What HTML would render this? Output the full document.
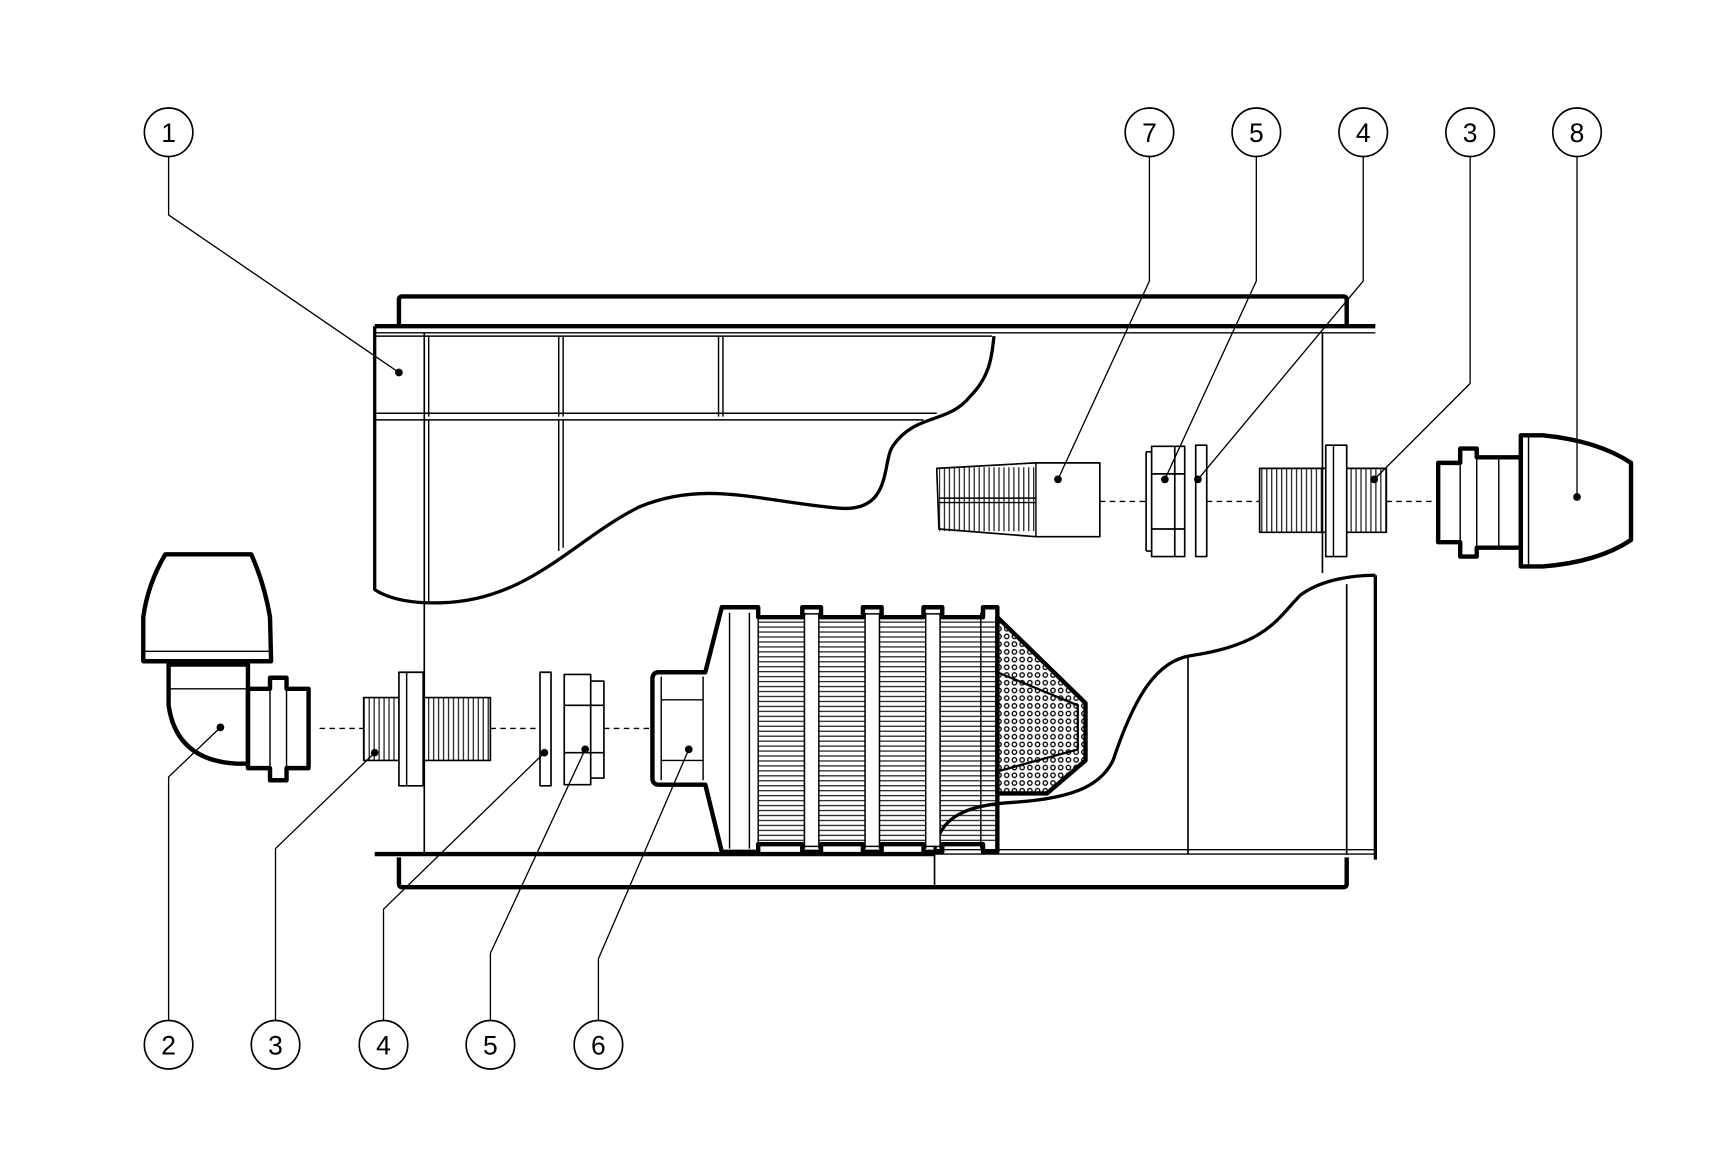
<!DOCTYPE html>
<html><head><meta charset="utf-8"><style>html,body{margin:0;padding:0;background:#fff}svg{display:block}</style></head>
<body>
<svg width="1728" height="1150" viewBox="0 0 1568 1043.5" xmlns="http://www.w3.org/2000/svg" font-family="Liberation Sans, sans-serif">
<defs>
<pattern id="hs" width="10" height="4.5" patternUnits="userSpaceOnUse"><line x1="0" y1="2" x2="10" y2="2" stroke="#000" stroke-width="1"/></pattern>
<pattern id="vs" width="4.5" height="10" patternUnits="userSpaceOnUse"><line x1="2" y1="0" x2="2" y2="10" stroke="#000" stroke-width="1"/></pattern>
<pattern id="dots" width="7" height="7" patternUnits="userSpaceOnUse"><circle cx="3.5" cy="3.5" r="2" fill="none" stroke="#000" stroke-width="1.2"/></pattern>
</defs>
<rect width="1568" height="1044" fill="#fff"/>
<g fill="none" stroke="#000" stroke-linejoin="round">
<path d="M362,296 V272 Q362,269 365,269 H1219 Q1222,269 1222,272 V296" stroke-width="4"/>
<path d="M340,296 H1248" stroke-width="4"/>
<path d="M340,302 H1248" stroke-width="1.3"/>
<path d="M362,778 V802 Q362,805 365,805 H1219 Q1222,805 1222,802 V778" stroke-width="4"/>
<path d="M340,775 H848" stroke-width="4"/>
<path d="M848,775 H1248 M848,771 H1248" stroke-width="1.3"/>
<path d="M385,302 V775" stroke-width="1.5"/>
<path d="M1200,302 V520" stroke-width="1.5"/>
<path d="M1222,530 V775 M1078,595 V775" stroke-width="1.5"/>
<path d="M848,775 V803" stroke-width="1.5"/>
<path d="M340,296 V535 Q360,548 400,547 C480,545 520,490 580,460 C640,435 690,455 760,461 C810,466 800,420 810,405 C830,375 860,385 880,360 C900,340 900,320 902,305" stroke-width="3"/>
<path d="M340,375 H850 M340,381 H838 M340,305 H900" stroke-width="1.3"/>
<path d="M385,305 V378 M389,305 V378 M507,305 V378 M511,305 V378 M652,305 V378 M656,305 V378" stroke-width="1.3"/>
<path d="M385,381 V547 M389,381 V547 M507,381 V500 M511,381 V497" stroke-width="1.3"/>
<path d="M1248,522 V780 M848,775 C850,740 880,730 920,728 C980,724 1000,710 1010,690 C1030,630 1050,600 1080,595 C1150,585 1160,560 1180,540 C1200,525 1230,522 1248,522" stroke-width="3"/>
<path d="M598,610 H640 L655,551 H688 V560 H728 V551 H745 V560 H783 V551 H800 V560 H838 V551 H855 V560 H892 V551 H905 V773 H892 V766 H855 V773 H838 V766 H800 V773 H783 V766 H745 V773 H728 V766 H688 V773 H655 L640,712 H598 Q592,712 592,706 V616 Q592,610 598,610 Z" stroke-width="4"/>
<rect x="688" y="562" width="217" height="203" fill="url(#hs)" stroke="none"/>
<path d="M662,556 V770 M680,556 V770 M688,556 V770 M730,556 V770 M743,556 V770 M785,556 V770 M798,556 V770 M840,556 V770 M853,556 V770 M890,556 V770" stroke-width="1.3"/>
<path d="M730,557 H743 V768 H730 Z M785,557 H798 V768 H785 Z M840,557 H853 V768 H840Z" fill="#fff" stroke-width="1.3"/>
<path d="M600,614 V708 M638,614 V708 M600,635 H638 M600,690 H638" stroke-width="1.3"/>
<path d="M905,560 L985,638 V690 L950,720 H905 Z" fill="url(#dots)" stroke-width="4"/>
<path d="M905,610 L978,640 L978,680 L905,700" fill="none" stroke-width="2"/>
<path d="M290,661 H330 M445,661 H490 M548,661 H592" stroke-width="1.2" stroke-dasharray="5,4"/>
<path d="M150,503 H228 Q240,530 245,560 L246,600 H130 L130,560 Q134,530 150,503 Z" stroke-width="4"/>
<path d="M130,591 H246" stroke-width="1.3"/>
<path d="M153,603 V640 Q160,690 215,693 H225 V625 H225 V603 Z" stroke-width="4"/>
<path d="M225,625 H245 V615 H260 V625 H280 V697 H260 V708 H245 V697 H225 Z" stroke-width="4"/>
<path d="M153,625 H225 M245,625 V697 M260,625 V697" stroke-width="1.3"/>
<rect x="330" y="633" width="115" height="57" fill="url(#vs)" stroke-width="1.5"/>
<rect x="362" y="610" width="22" height="103" fill="#fff" stroke-width="1.5"/>
<path d="M369,610 V713" stroke-width="1.3"/>
<rect x="490" y="610" width="10" height="103" stroke-width="1.5"/>
<rect x="512" y="612" width="24" height="100" stroke-width="1.5"/>
<path d="M536,618 H548 V706 H536 M512,640 H548 M512,683 H548" stroke-width="1.5"/>
<path d="M998,455 H1040 M1095,455 H1143 M1258,455 H1305" stroke-width="1.2" stroke-dasharray="5,4"/>
<path d="M850,425 L940,420 H998 V487 H940 L852,480 Z" stroke-width="1.5"/>
<rect x="852" y="424" width="88" height="58" fill="url(#vs)" stroke="none"/>
<path d="M940,420 V487 M852,452 H940 M852,456 H940" stroke-width="1.3"/>
<rect x="1045" y="405" width="30" height="100" stroke-width="1.5"/>
<path d="M1040,410 H1045 M1040,500 H1045 M1040,410 V500 M1045,430 H1075 M1045,480 H1075 M1066,405 V505" stroke-width="1.5"/>
<rect x="1085" y="404" width="10" height="101" stroke-width="1.5"/>
<rect x="1143" y="425" width="115" height="58" fill="url(#vs)" stroke-width="1.5"/>
<rect x="1203" y="404" width="19" height="101" fill="#fff" stroke-width="1.5"/>
<path d="M1210,404 V505" stroke-width="1.3"/>
<path d="M1380,395 H1400 Q1450,400 1480,420 V490 Q1450,510 1400,514 H1380 Z" stroke-width="4"/>
<path d="M1305,420 H1325 V407 H1340 V415 H1380 V497 H1340 V505 H1325 V492 H1305 Z" stroke-width="4"/>
<path d="M1325,420 V492 M1340,415 V497 M1360,415 V497 M1387,395 V514" stroke-width="1.3"/>
<g stroke-width="1.2">
<path d="M153,142 V195 L362,338"/>
<path d="M1043,142 V255 L960,435"/>
<path d="M1140,142 V255 L1057,435"/>
<path d="M1237,142 V255 L1087,435"/>
<path d="M1334,142 V348 L1247,435"/>
<path d="M1431,142 V450"/>
<path d="M153,926 V705 L200,660"/>
<path d="M250,926 V770 L340,683"/>
<path d="M348,926 V825 L494,683"/>
<path d="M445,926 V865 L531,680"/>
<path d="M543,926 V870 L625,680"/>
</g>
</g>
<g fill="#000">
<circle cx="362" cy="338" r="3.5"/><circle cx="960" cy="435" r="3.5"/><circle cx="1057" cy="435" r="3.5"/><circle cx="1087" cy="435" r="3.5"/><circle cx="1247" cy="435" r="3.5"/><circle cx="1431" cy="451" r="3.5"/><circle cx="200" cy="660" r="3.5"/><circle cx="340" cy="683" r="3.5"/><circle cx="494" cy="683" r="3.5"/><circle cx="531" cy="680" r="3.5"/><circle cx="625" cy="680" r="3.5"/>
</g>
<g fill="#fff" stroke="#000" stroke-width="1.5">
<circle cx="153" cy="120" r="22"/><circle cx="1043" cy="120" r="22"/><circle cx="1140" cy="120" r="22"/><circle cx="1237" cy="120" r="22"/><circle cx="1334" cy="120" r="22"/><circle cx="1431" cy="120" r="22"/>
<circle cx="153" cy="948" r="22"/><circle cx="250" cy="948" r="22"/><circle cx="348" cy="948" r="22"/><circle cx="445" cy="948" r="22"/><circle cx="543" cy="948" r="22"/>
</g>
<g font-size="24" text-anchor="middle" fill="#000">
<text x="153" y="129">1</text><text x="1043" y="129">7</text><text x="1140" y="129">5</text><text x="1237" y="129">4</text><text x="1334" y="129">3</text><text x="1431" y="129">8</text>
<text x="153" y="957">2</text><text x="250" y="957">3</text><text x="348" y="957">4</text><text x="445" y="957">5</text><text x="543" y="957">6</text>
</g>
</svg>
</body></html>
